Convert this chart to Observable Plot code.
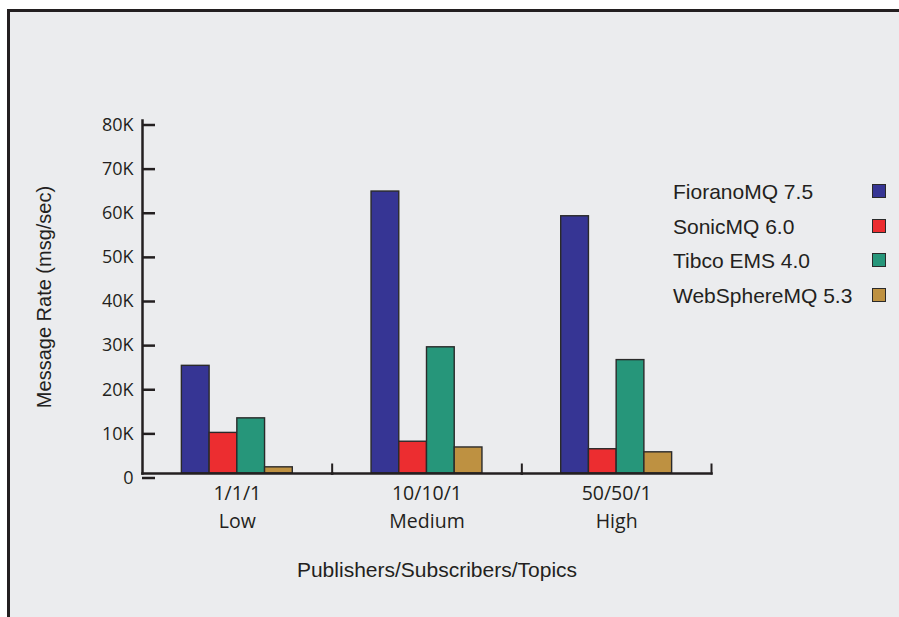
<!DOCTYPE html>
<html>
<head>
<meta charset="utf-8">
<script src="https://cdn.jsdelivr.net/npm/d3@7"></script>
<script src="https://cdn.jsdelivr.net/npm/@observablehq/plot@0.6"></script>
<style>
  html, body { margin: 0; padding: 0; background: #ffffff; }
  #wrap { position: relative; width: 899px; height: 617px; overflow: hidden; background: #ffffff; }
  #panel { position: absolute; left: 7px; top: 9px; right: 0; bottom: 0;
           background: #EBECEE; border-top: 3px solid #231f20; border-left: 3px solid #231f20; }
  #chart { position: absolute; left: 0; top: 0; }
  #legend { position: absolute; left: 673px; top: 184px; width: 215px;
            font-family: "Liberation Sans", Arial, sans-serif; font-size: 21px; color: #231f20; }
  .row { position: relative; height: 15px; line-height: 15px; margin-bottom: 19.6px; white-space: nowrap; }
  .sw { position: absolute; left: 199px; top: 0; width: 12px; height: 12px; border: 1.5px solid #2a2a2a; }
</style>
</head>
<body>
<div id="wrap">
  <div id="panel"></div>
  <div id="chart"></div>
  <div id="legend"></div>
</div>
<script>
// ---- data ----
const categories = ["1/1/1", "10/10/1", "50/50/1"];
const levels = ["Low", "Medium", "High"];
const series = ["FioranoMQ 7.5", "SonicMQ 6.0", "Tibco EMS 4.0", "WebSphereMQ 5.3"];
const fiorano = [24400, 63900, 58300];
const sonic = [9200, 7200, 5500];
const tibco = [12500, 28600, 25700];
const websphere = [1400, 5900, 4800];
const yTicks = [0, 10000, 20000, 30000, 40000, 50000, 60000, 70000, 80000];
const yTickLabels = ["0", "10K", "20K", "30K", "40K", "50K", "60K", "70K", "80K"];
const colors = ["#363594", "#EC2D30", "#26967A", "#BE9141"];
const xTitle = "Publishers/Subscribers/Topics";
const yTitle = "Message Rate (msg/sec)";

const valuesBySeries = [fiorano, sonic, tibco, websphere];
const table = [];
categories.forEach((c, ci) => {
  series.forEach((s, si) => {
    table.push({cat: c, series: s, value: valuesBySeries[si][ci]});
  });
});
const catData = categories.map((c, i) => ({cat: c, label: c + "\n" + levels[i]}));

const ink = "#231f20";

const plot = Plot.plot({
  width: 899,
  height: 617,
  marginLeft: 142,
  marginRight: 188,
  marginTop: 120,
  marginBottom: 144,
  style: {background: "transparent", overflow: "visible", color: ink},
  fx: {domain: categories, padding: 0, axis: null, round: false},
  x: {domain: series, paddingInner: 0, paddingOuter: 1.42, axis: null, round: false},
  y: {domain: [0, 80000], axis: null},
  color: {domain: series, range: colors},
  marks: [
    Plot.barY(table, {fx: "cat", x: "series", y: "value", fill: "series", stroke: "#2a2a2a", strokeWidth: 1.4}),
    Plot.frame({anchor: "bottom", stroke: ink, strokeWidth: 2.5}),
    Plot.frame({anchor: "left", facetAnchor: "left", stroke: ink, strokeWidth: 2.5}),
    Plot.frame({anchor: "right", insetTop: 344, stroke: ink, strokeWidth: 2}),
    Plot.axisY(yTicks, {
      tickFormat: (d, i) => yTickLabels[i],
      tickSize: -13,
      tickPadding: 22,
      strokeWidth: 2.5,
      stroke: ink,
      fill: ink,
      fontSize: 18,
      fontFamily: "Open Sans",
      dy: 4.5,
      label: null
    }),
    Plot.text(catData, {
      fx: "cat",
      text: "label",
      frameAnchor: "bottom",
      lineAnchor: "top",
      dy: 7,
      lineHeight: 1.42,
      fontSize: 19.5,
      fontFamily: "Open Sans",
      fill: ink
    }),
    Plot.text([yTitle], {
      frameAnchor: "left",
      facetAnchor: "left",
      textAnchor: "middle",
      rotate: -90,
      dx: -98,
      fontSize: 20,
      fontFamily: "Liberation Sans",
      fill: ink
    }),
    Plot.text([xTitle], {
      facet: "super",
      frameAnchor: "bottom",
      dy: 103,
      dx: 10,
      fontSize: 21,
      fontFamily: "Liberation Sans",
      fill: ink
    })
  ]
});
document.getElementById("chart").appendChild(plot);

// legend (labels left, swatches right)
const color = plot.scale("color");
const legend = document.getElementById("legend");
series.forEach((s) => {
  const row = document.createElement("div");
  row.className = "row";
  const t = document.createElement("span");
  t.textContent = s;
  const sw = document.createElement("span");
  sw.className = "sw";
  sw.style.background = color.apply(s);
  row.appendChild(t);
  row.appendChild(sw);
  legend.appendChild(row);
});
</script>
</body>
</html>
